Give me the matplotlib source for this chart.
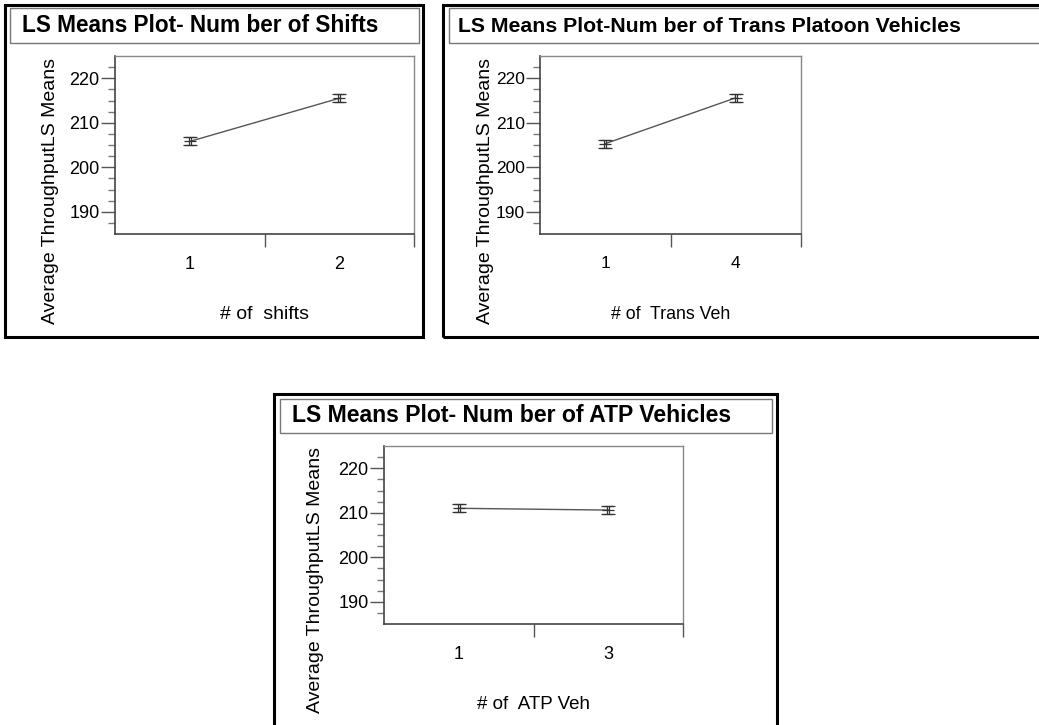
import matplotlib.pyplot as plt
import matplotlib.transforms as mtransforms
from matplotlib.patches import Rectangle

plt.rcParams['font.family'] = ['Liberation Sans', 'DejaVu Sans']

# data
shift_levels = ['1', '2']
shift_means = [205.8, 215.5]
shift_err = [0.9, 0.9]

trans_levels = ['1', '4']
trans_means = [205.3, 215.6]
trans_err = [0.9, 0.9]

atp_levels = ['1', '3']
atp_means = [211.0, 210.6]
atp_err = [0.9, 0.9]

W, H = 1039, 725
fig = plt.figure(figsize=(W / 100, H / 100), dpi=100)


def fbox(x0, y0, x1, y1):
    # pixel box (top-left origin) -> figure fraction [l, b, w, h]
    return [x0 / W, 1 - y1 / H, (x1 - x0) / W, (y1 - y0) / H]


def frame(x0, y0, x1, y1, **kw):
    l, b, w, h = fbox(x0, y0, x1, y1)
    fig.add_artist(Rectangle((l, b), w, h, transform=fig.transFigure,
                             fill=False, **kw))


def lsplot(ax_px, levels, means, err, xlabel, ylab_x, ylab_y, tsize, xlsize):
    ax = fig.add_axes(fbox(*ax_px))
    pos = list(range(len(levels)))
    ax.plot(pos, means, color='#555555', lw=1)
    for dx in (-1.2, 1.2):
        off = mtransforms.offset_copy(ax.transData, fig=fig, x=dx, y=0, units='dots')
        ax.errorbar(pos, means, yerr=err, fmt='none', ecolor='#333333',
                    elinewidth=0.9, capsize=4, capthick=0.9, transform=off)
    ax.plot(pos, means, ls='none', marker='_', ms=9, mew=0.9, color='#333333')
    ax.set_xlim(-0.5, len(levels) - 0.5)
    ax.set_ylim(185, 225)
    ax.set_yticks([190, 200, 210, 220])
    ax.set_yticks([187.5, 192.5, 195, 197.5, 202.5, 205, 207.5, 212.5, 215,
                   217.5, 222.5], minor=True)
    ax.set_xticks(pos)
    ax.set_xticklabels(levels)
    ax.set_xticks([0.5, 1.5], minor=True)
    ax.tick_params(axis='x', which='major', length=0, pad=16, labelsize=tsize)
    ax.tick_params(axis='x', which='minor', length=9, width=1, color='#555555')
    ax.tick_params(axis='y', which='major', length=10, width=1, color='#555555',
                   labelsize=tsize, pad=1)
    ax.tick_params(axis='y', which='minor', length=5, width=1, color='#777777')
    for s in ('left', 'bottom'):
        ax.spines[s].set_color('#444444')
        ax.spines[s].set_linewidth(1.2)
    for s in ('top', 'right'):
        ax.spines[s].set_color('#888888')
        ax.spines[s].set_linewidth(1)
    ax.set_xlabel(xlabel, fontsize=xlsize, va='center')
    ax.xaxis.set_label_coords(0.5, -0.455)
    ax.set_ylabel('Average ThroughputLS Means', fontsize=14, va='center', ha='center')
    ax.yaxis.set_label_coords(ylab_x, ylab_y)
    return ax


# panel 1: shifts
frame(5, 5, 423, 337, edgecolor='black', lw=2.2)
frame(10, 8, 419, 43, edgecolor='#777777', lw=1)
fig.text(22 / W, 1 - 26 / H, 'LS Means Plot- Num ber of Shifts',
         fontsize=16.3, fontweight='bold', va='center')
lsplot((115, 56, 414, 234), shift_levels, shift_means, shift_err,
       '# of  shifts', -0.217, 0.24, 13, 14)

# panel 2: trans platoon vehicles
frame(443, 5, 1045, 337, edgecolor='black', lw=2.2)
frame(449, 8, 1045, 43, edgecolor='#777777', lw=1)
fig.text(458 / W, 1 - 26 / H, 'LS Means Plot-Num ber of Trans Platoon Vehicles',
         fontsize=15.3, fontweight='bold', va='center')
lsplot((540, 56, 801, 234), trans_levels, trans_means, trans_err,
       '# of  Trans Veh', -0.21, 0.24, 12.5, 12.8)

# panel 3: ATP vehicles
frame(274, 394, 777, 735, edgecolor='black', lw=2.2)
frame(280, 399, 772, 433, edgecolor='#777777', lw=1)
fig.text(292 / W, 1 - 416 / H, 'LS Means Plot- Num ber of ATP Vehicles',
         fontsize=16.6, fontweight='bold', va='center')
lsplot((384, 446, 683, 624), atp_levels, atp_means, atp_err,
       '# of  ATP Veh', -0.23, 0.247, 13, 13.5)

fig.savefig('out.png', dpi=100)
